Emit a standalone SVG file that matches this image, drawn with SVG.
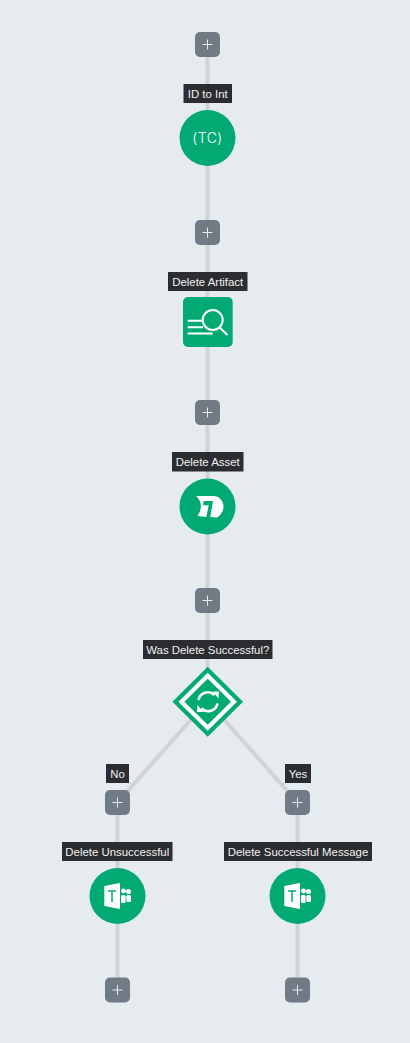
<svg xmlns="http://www.w3.org/2000/svg" width="410" height="1043" viewBox="0 0 410 1043">
<style>
.bg{fill:#e6ebef}
.edge{stroke:#cfd4d8;stroke-width:4;fill:none}
.btn{fill:#707b85}
.plus{stroke:#e8ecef;stroke-width:1;fill:none}
.lb{fill:#2b2d30}
.lt{font-family:"Liberation Sans",Arial,sans-serif;font-size:11.4px;fill:#f2f2f2;text-anchor:middle}
.g{fill:#03a973}
.w{fill:#fff}
.ws{stroke:#fff;fill:none;stroke-width:2}
.ws2{stroke:#fff;fill:none;stroke-width:2.6}
</style>
<defs>
<g id="plusbtn"><rect class="btn" x="-12.500" y="-12.500" width="25" height="25" rx="5"/><path class="plus" d="M-5 0H5M0 -5V5"/></g>
<g id="teams"><path class="w" d="M-13.200 -10L2.500 -13V13L-13.200 10Z"/><path d="M-9.500 -5H-1.500M-5.500 -5V6" stroke="#03a973" stroke-width="1.500" fill="none"/><circle class="w" cx="6" cy="-5" r="2.400"/><rect class="w" x="3.500" y="-1" width="4.600" height="8" rx="1.500"/><circle class="w" cx="11" cy="-4.500" r="2.500"/><rect class="w" x="8.800" y="-1" width="4.700" height="7" rx="1.500"/></g>
</defs>
<rect class="bg" width="410" height="1043"/>
<g id="connectors">
<path class="edge" d="M207.500 44.500V701"/>
<path class="edge" d="M207.500 701L117.500 802.500V990"/>
<path class="edge" d="M207.500 701L297.500 802.500V990"/>
</g>
<g id="add-1"><use href="#plusbtn" x="207.500" y="44.500"/></g>
<g id="node-id-to-int">
<rect class="lb" x="183.500" y="84" width="48.500" height="19"/><text class="lt" x="207.750" y="97.500">ID to Int</text>
<circle class="g" cx="207.500" cy="138" r="28"/>
<text x="207.500" y="143" font-family="Inter,'Liberation Sans',sans-serif" font-size="14" font-weight="300" letter-spacing="0.500" fill="#fff" text-anchor="middle">(TC)</text>
</g>
<g id="add-2"><use href="#plusbtn" x="207.500" y="232.500"/></g>
<g id="node-delete-artifact">
<rect class="lb" x="168" y="272" width="79.500" height="19"/><text class="lt" x="207.750" y="285.500">Delete Artifact</text>
<rect class="g" x="183" y="297" width="49.700" height="50" rx="5"/>
<circle class="ws" cx="212.700" cy="320" r="10"/>
<path class="ws" d="M219.500 327.500L227.500 335M187.700 320.700H202.300M187.700 327.300H203M187.700 333.500H212.700"/>
</g>
<g id="add-3"><use href="#plusbtn" x="207.500" y="412.500"/></g>
<g id="node-delete-asset">
<rect class="lb" x="172" y="452" width="71.500" height="19.500"/><text class="lt" x="207.750" y="465.500">Delete Asset</text>
<circle class="g" cx="207.500" cy="506.500" r="28"/>
<path class="w" d="M196 496H213.700C219 496 223.500 501 223.500 506.500C223.500 512 220 515.500 217 517.500L210.300 517L213 501H203.700L203 505.300H208.700L206.300 517L197.500 516C201.500 510 203 502 196 496Z"/>
</g>
<g id="add-4"><use href="#plusbtn" x="207.500" y="600.500"/></g>
<g id="node-was-delete-successful">
<rect class="lb" x="143" y="640" width="129.500" height="19"/><text class="lt" x="207.750" y="653.500">Was Delete Successful?</text>
<path class="g" d="M207.700 666.700L243 701.700L207.700 736.700L172.400 701.700Z"/>
<path d="M207.700 675.700L234 701.700L207.700 727.700L181.400 701.700Z" fill="none" stroke="#fff" stroke-width="4.200"/>
<path class="ws2" d="M198.500 700A9.500 9.500 0 0 1 214.500 695M217.500 703.500A9.500 9.500 0 0 1 201.500 708.500"/>
<path class="w" d="M212.500 691.500L219 691.500L218.500 698.500ZM203.500 712L197 712L197.500 705Z"/>
</g>
<g id="label-no"><rect class="lb" x="106" y="764" width="23" height="19"/><text class="lt" x="117.500" y="777.500">No</text></g>
<g id="label-yes"><rect class="lb" x="285" y="764" width="26" height="19"/><text class="lt" x="298" y="777.500">Yes</text></g>
<g id="add-5"><use href="#plusbtn" x="117.500" y="802.500"/></g>
<g id="add-6"><use href="#plusbtn" x="297.500" y="802.500"/></g>
<g id="node-delete-unsuccessful">
<rect class="lb" x="62" y="842" width="110.500" height="19"/><text class="lt" x="117.250" y="855.500">Delete Unsuccessful</text>
<circle class="g" cx="117.500" cy="896" r="28"/>
<use href="#teams" x="117.500" y="896"/>
</g>
<g id="node-delete-successful-message">
<rect class="lb" x="224" y="842" width="148" height="19"/><text class="lt" x="298" y="855.500">Delete Successful Message</text>
<circle class="g" cx="297.500" cy="896" r="28"/>
<use href="#teams" x="297.500" y="896"/>
</g>
<g id="add-7"><use href="#plusbtn" x="117.500" y="990"/></g>
<g id="add-8"><use href="#plusbtn" x="297.500" y="990"/></g>
</svg>
